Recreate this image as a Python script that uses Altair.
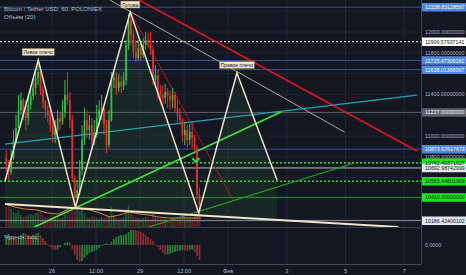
import altair as alt
import pandas as pd

FONT = "Liberation Sans"
BG = "#131722"
GREEN, RED = "#33c247", "#e8312f"

# ---------------- candle data (2-hour bars; x in day-of-January, Feb 1 = 32)
bar_time = [round(24.4417 + i / 12, 4) for i in range(80)]
first_open = 10788
close = [10721, 10654, 10788, 10962, 11077, 11250, 11346, 11231, 11173, 11298,
         11385, 11462, 11558, 11615, 11442, 11327, 11250, 11202, 11106, 11010,
         11058, 11173, 11135, 11221, 11394, 11346, 11154, 10596, 10404, 10481,
         10673, 10962, 11154, 11058, 11106, 10942, 11010, 11173, 11250, 11269,
         11106, 10913, 11154, 11538, 11558, 11462, 11519, 11481, 11538, 11875,
         12115, 11971, 11808, 11750, 11846, 11779, 11875, 11923, 11904, 11827,
         11538, 11587, 11442, 11394, 11365, 11423, 11385, 11346, 11394, 11269,
         11202, 11154, 11010, 11058, 10962, 11038, 10981, 10885, 10433, 10337]
high = [10865, 10769, 10865, 11058, 11202, 11394, 11423, 11365, 11346, 11394,
        11490, 11558, 11654, 11731, 11635, 11490, 11346, 11298, 11250, 11154,
        11154, 11250, 11231, 11346, 11538, 11615, 11423, 11202, 10625, 10577,
        10769, 11106, 11269, 11250, 11202, 11173, 11154, 11298, 11346, 11394,
        11269, 11154, 11250, 11615, 11635, 11615, 11596, 11577, 11615, 11923,
        12173, 12192, 12019, 11923, 11923, 11894, 11942, 12000, 11990, 12000,
        11875, 11683, 11635, 11490, 11490, 11500, 11462, 11442, 11462, 11423,
        11346, 11269, 11173, 11135, 11106, 11115, 11135, 11010, 10913, 10500]
low = [10654, 10577, 10625, 10769, 10942, 11077, 11202, 11154, 11058, 11106,
       11250, 11346, 11394, 11490, 11394, 11269, 11173, 11135, 11038, 10942,
       10933, 11029, 11058, 11106, 11173, 11298, 11077, 10558, 10337, 10385,
       10433, 10625, 10913, 10981, 10962, 10865, 10913, 10981, 11106, 11154,
       11010, 10837, 10885, 11135, 11462, 11394, 11423, 11414, 11442, 11490,
       11827, 11875, 11750, 11712, 11731, 11731, 11750, 11827, 11846, 11779,
       11490, 11462, 11346, 11298, 11269, 11308, 11269, 11250, 11269, 11231,
       11135, 11106, 10942, 10913, 10894, 10913, 10885, 10846, 10385, 10260]
volume = [200, 220, 180, 150, 140, 160, 120, 100, 110, 120,
          130, 120, 140, 150, 160, 120, 100, 90, 100, 120,
          110, 90, 80, 90, 120, 140, 120, 240, 270, 200,
          160, 180, 140, 100, 90, 110, 100, 90, 80, 100,
          90, 120, 110, 200, 120, 90, 80, 90, 100, 180,
          220, 160, 120, 100, 90, 80, 90, 100, 90, 80,
          150, 100, 90, 80, 70, 80, 70, 80, 90, 80,
          90, 100, 120, 90, 100, 90, 80, 120, 220, 250]
ao = [100, 110, 90, 70,
      60, 80, 100, 120, 110, 100, 90, 100, 110, 120,
      100, 70, 40, 10, -20, -40, -50, -45,
      -20, 0, 20, 30, 25,
      -40, -100, -150, -170, -160, -130,
      -100, -80, -70, -60, -50, -30, -10,
      10, 20, 10, 30,
      60, 80, 90, 100, 100, 110,
      130, 150, 150, 145, 140, 130, 120,
      100, 80, 60, 40,
      10, -20, -50, -80, -100, -95,
      -90, -80, -70, -60, -55, -50, -55, -60, -50, -45,
      -70, -110, -150]

# volume moving average (read points)
ma_time = [24.4, 24.733, 25.067, 25.5, 25.833, 26.233, 26.633, 26.967, 27.3, 27.633,
           27.967, 28.3, 28.633, 28.967, 29.3, 29.633, 29.967, 30.4, 31.067]
ma_vol = [230, 200, 180, 170, 140, 130, 190, 180, 170, 140,
          100, 120, 150, 130, 120, 100, 90, 90, 90]

# head & shoulders pattern
zz_time = [24.4, 25.533, 26.8, 28.667, 31.0, 32.3, 33.667]
zz_price = [10567, 11731, 10317, 12192, 10260, 11606, 10577]
neck_price = [10346, 10328, 10307, 10276, 10237, 10215, 10193]
pat_time = [25.533, 28.667, 32.3]
pat_price = [11808, 12264, 11683]
pat_text = ["Левое плечо", "Голова", "Правое плечо"]
pat_width = [32, 19, 35]

# trend lines: start/end
tl_t1 = [28.967, 27.967, 28.667, 24.4, 25.4, 29.3, 24.4]
tl_p1 = [12307.7, 12307.7, 12192, 10923, 10125.4, 10125.4, 10346]
tl_t2 = [38.433, 35.967, 32.167, 38.433, 33.8, 36.3, 37.8]
tl_p2 = [10856, 11038, 10385, 11394, 11231, 10740, 10125.4]
tl_color = ["#e3141e", "#aaa697", "#b3171c", "#1fa3b3", "#3ee83e", "#2aa52a", "#efe6cc"]
tl_width = [1.6, 1.0, 1.0, 1.2, 1.5, 1.1, 2.0]

# horizontal levels
hl_price = [12238.83128567, 11906.57937141, 11725.47309182, 11638.01366067, 11227.0,
            10873.67617673, 10742.49371027, 10692.98742099, 10565.44801909, 10410.0, 10186.42400102]
hl_color = ["#34539a", "#d6d6d6", "#34539a", "#34539a", "#5d606b",
            "#34539a", "#1ee61e", "#bdbdbd", "#1ee61e", "#2b8a34", "#8e909a"]
hl_dash = [[1, 0], [2, 2], [1, 0], [1, 0], [1, 0], [1, 0], [2, 2], [1, 0], [2, 2], [1, 0], [1, 0]]
hl_width = [1, 1.3, 1, 1, 1, 1, 1.6, 1, 1.6, 1, 1]
tag_bg = ["#4f86e0", "#ffffff", "#4f86e0", "#4f86e0", "#5d606b",
          "#4f86e0", "#1ee61e", "#e6e8ee", "#1ee61e", "#1ee61e", "#dfe6f5"]
tag_fg = ["#ffffff", "#131722", "#ffffff", "#ffffff", "#ffffff",
          "#ffffff", "#131722", "#131722", "#131722", "#131722", "#131722"]
tag_text = ["12238.83128567", "11906.57937141", "11725.47309182", "11638.01366067", "11227.00000000",
            "10873.67617673", "10742.49371027", "10692.98742099", "10565.44801909", "10410.00000000",
            "10186.42400102"]

axis_price = [12000, 11800, 11400, 11000, 10800]
axis_text = ["12000.00000000", "11800.00000000", "11400.00000000", "11000.00000000", "10800.00000000"]
grid_price = [12200, 12000, 11800, 11600, 11400, 11200, 11000, 10800, 10600, 10400, 10200]
tick_time = [26, 27.5, 29, 30.5, 32, 34, 36, 38]
tick_text = ["26", "12:00", "29", "12:00", "Фев", "3", "5", "7"]

check_time = [30.9]
check_price = [10769]

# ---------------- scales
xs = alt.Scale(domain=[24.4, 39.9333], nice=False, zero=False)
ys = alt.Scale(domain=[10125.4, 12307.7], range=[227, 0], nice=False, zero=False)
vs = alt.Scale(domain=[0, 2270], range=[227, 0], nice=False)
osc = alt.Scale(domain=[-190, 180], range=[264, 227], nice=False, zero=False)


def X(f):
    return alt.X(f, type="quantitative", scale=xs, axis=None)


def Y(f, s=ys):
    return alt.Y(f, type="quantitative", scale=s, axis=None)


opens = [first_open] + close[:-1]
cd = pd.DataFrame({"t": bar_time, "open": opens, "close": close, "high": high,
                   "low": low, "vol": volume, "ao": ao})
cd["ccol"] = [GREEN if c >= o else RED for o, c in zip(opens, close)]
cd["vcol"] = ["#1f6e2c" if c >= o else "#7c2329" for o, c in zip(opens, close)]
ao_prev = [ao[0]] + ao[:-1]
cd["acol"] = ["#2f8a3a" if a >= b else "#9c2f30" for a, b in zip(ao, ao_prev)]
cd["zero"] = 0

# ---------------- background group
hgrid = alt.Chart(pd.DataFrame({"p": grid_price})).mark_rule(color="#1f2433", strokeWidth=1).encode(
    y=Y("p"), x=alt.value(0), x2=alt.value(421))
vgrid = alt.Chart(pd.DataFrame({"t": tick_time})).mark_rule(color="#232838", strokeWidth=1).encode(
    x=X("t"), y=alt.value(0), y2=alt.value(264))
fill = alt.Chart(pd.DataFrame({"t": zz_time, "p": zz_price, "n": neck_price})).mark_area(
    color="#3a8f3e", opacity=0.13).encode(x=X("t"), y=Y("p"), y2="n:Q")
bg_group = alt.layer(hgrid, vgrid, fill)

# ---------------- volume group
vbars = alt.Chart(cd).mark_bar(width=1.8, opacity=0.75).encode(
    x=X("t"), y=Y("vol", vs), color=alt.Color("vcol:N", scale=None))
vma = alt.Chart(pd.DataFrame({"t": ma_time, "v": ma_vol})).mark_line(
    color="#d9852e", strokeWidth=1).encode(x=X("t"), y=Y("v", vs))
vol_group = alt.layer(vbars, vma)

# ---------------- main price group
layers = []
for p, c, dsh, w in zip(hl_price, hl_color, hl_dash, hl_width):
    layers.append(alt.Chart(pd.DataFrame({"p": [p]})).mark_rule(
        color=c, strokeDash=dsh, strokeWidth=w).encode(y=Y("p"), x=alt.value(0), x2=alt.value(421)))
for t1, p1, t2, p2, c, w in zip(tl_t1, tl_p1, tl_t2, tl_p2, tl_color, tl_width):
    layers.append(alt.Chart(pd.DataFrame({"t": [t1, t2], "p": [p1, p2]})).mark_line(
        color=c, strokeWidth=w).encode(x=X("t"), y=Y("p")))
wick = alt.Chart(cd).mark_rule(strokeWidth=1).encode(
    x=X("t"), y=Y("low"), y2="high:Q", color=alt.Color("ccol:N", scale=None))
body = alt.Chart(cd).mark_bar(width=1.7).encode(
    x=X("t"), y=Y("open"), y2="close:Q", color=alt.Color("ccol:N", scale=None))
layers += [wick, body]
zz = alt.Chart(pd.DataFrame({"t": zz_time, "p": zz_price})).mark_line(
    color="#ece3c8", strokeWidth=1.5).encode(x=X("t"), y=Y("p"))
layers.append(zz)
for t, p, s, w in zip(pat_time, pat_price, pat_text, pat_width):
    d = pd.DataFrame({"t": [t], "p": [p], "s": [s]})
    layers.append(alt.Chart(d).mark_rect(width=w, height=7, color="#efe4c6", stroke="#8a7a50",
                                          strokeWidth=0.5).encode(x=X("t"), y=Y("p")))
    layers.append(alt.Chart(d).mark_text(font=FONT, fontSize=5, color="#222222").encode(
        x=X("t"), y=Y("p"), text="s:N"))
layers.append(alt.Chart(pd.DataFrame({"t": check_time, "p": check_price})).mark_point(
    shape="M-1,-0.55L0,0.55L1,-0.55", filled=False, stroke="#1ee61e", strokeWidth=2.2, size=49,
    opacity=1).encode(x=X("t"), y=Y("p")))
# price scale labels and tags
layers.append(alt.Chart(pd.DataFrame({"p": axis_price, "s": axis_text})).mark_text(
    font=FONT, fontSize=5.3, color="#b2b5be", align="left", baseline="middle").encode(
    y=Y("p"), x=alt.value(425), text="s:N"))
tags = pd.DataFrame({"p": hl_price, "s": tag_text, "bg": tag_bg, "fg": tag_fg})
layers.append(alt.Chart(tags).mark_rect(height=8.5).encode(
    y=Y("p"), x=alt.value(422), x2=alt.value(466), color=alt.Color("bg:N", scale=None)))
layers.append(alt.Chart(tags).mark_text(font=FONT, fontSize=5.3, align="left", baseline="middle").encode(
    y=Y("p"), x=alt.value(425), text="s:N", color=alt.Color("fg:N", scale=None)))
main_group = alt.layer(*layers)

# ---------------- oscillator group + frame
ao_bars = alt.Chart(cd).mark_rule(strokeWidth=1.8, opacity=0.85).encode(
    x=X("t"), y=Y("ao", osc), y2="zero:Q", color=alt.Color("acol:N", scale=None))
zero_lbl = alt.Chart(pd.DataFrame({"v": [0], "s": ["0.0000"]})).mark_text(
    font=FONT, fontSize=5.3, color="#b2b5be", align="left", baseline="middle").encode(
    y=Y("v", osc), x=alt.value(425), text="s:N")
one = pd.DataFrame({"a": [0]})
frame_r = alt.Chart(one).mark_rule(color="#434651", strokeWidth=1).encode(
    x=alt.value(421.5), y=alt.value(0), y2=alt.value(264))
frame_b = alt.Chart(one).mark_rule(color="#434651", strokeWidth=1).encode(
    x=alt.value(0), x2=alt.value(421.5), y=alt.value(264.5))
frame_m = alt.Chart(one).mark_rule(color="#363a45", strokeWidth=1).encode(
    x=alt.value(0), x2=alt.value(421.5), y=alt.value(227.5))
xl = alt.Chart(pd.DataFrame({"t": tick_time, "s": tick_text})).mark_text(
    font=FONT, fontSize=5.6, color="#b2b5be", baseline="middle").encode(
    x=X("t"), y=alt.value(271), text="s:N")
texts = pd.DataFrame({"s": ["Bitcoin / Tether USD, 60, POLONIEX", "Объём (20)", "Чудесн. осц."],
                      "y": [9, 17, 237]})
title = alt.Chart(texts).mark_text(font=FONT, fontSize=6, color="#b8bbc4", align="left",
                                   baseline="middle").encode(
    x=alt.value(4), y=alt.Y("y:Q", scale=None, axis=None), text="s:N")
osc_group = alt.layer(ao_bars, zero_lbl, frame_r, frame_b, frame_m, xl, title)

chart = alt.layer(bg_group, vol_group, main_group, osc_group).resolve_scale(
    y="independent").properties(
    width=466, height=275, autosize=alt.AutoSizeParams(type="none"), padding=0,
    background=BG).configure_view(strokeWidth=0)

chart.save("out.html", embed_options={"renderer": "svg", "actions": False})
